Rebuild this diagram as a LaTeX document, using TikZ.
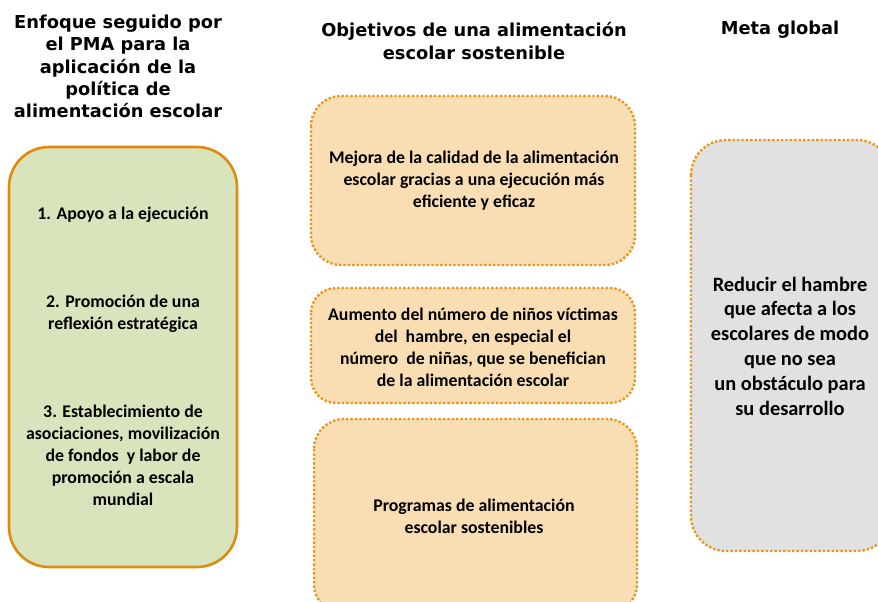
\documentclass[tikz,border=0pt]{standalone}
\usepackage{fontspec}
\setmainfont{Carlito}
\newfontfamily\headfont{DejaVu Sans}
\definecolor{edgeor}{HTML}{E08A0E}
\definecolor{dotor}{HTML}{E8961E}
\definecolor{greenfill}{HTML}{D8E4BC}
\definecolor{orfill}{HTML}{F9DEB4}
\definecolor{grayfill}{HTML}{E1E1E1}
\begin{document}
\begin{tikzpicture}[x=1pt,y=-1pt,
  heading/.style={font=\headfont\bfseries\fontsize{17.8}{22.2}\selectfont, align=center, inner sep=0pt},
  bodytext/.style={font=\bfseries\fontsize{17.8}{22}\selectfont, align=center, inner sep=0pt},
  greenbox/.style={draw=edgeor, line width=2.6pt, fill=greenfill, rounded corners=40pt},
  objbox/.style={draw=dotor, line width=2.4pt, dash pattern=on 2.4pt off 2pt, fill=orfill, rounded corners=#1},
  goalbox/.style={draw=dotor, line width=2.4pt, dash pattern=on 2.4pt off 2pt, fill=grayfill, rounded corners=35pt}
]
\useasboundingbox (0,0) rectangle (878,602);
\clip (0,0) rectangle (878,602);
% headings
\node[heading] (h1) at (118,66.5) {Enfoque seguido por\\el PMA para la\\aplicación de la\\política de\\alimentación escolar};
\node[heading] (h2) at (474,41) {Objetivos de una alimentación\\escolar sostenible};
\node[heading] (h3) at (780,30) {Meta global};
% left box
\draw[greenbox] (9,147) rectangle (237,567);
\node[bodytext] (a1) at (123,215) {1. Apoyo a la ejecución};
\node[bodytext] (a2) at (123,314) {2. Promoción de una\\reflexión estratégica};
\node[bodytext] (a3) at (123,455) {3. Establecimiento de\\asociaciones, movilización\\de fondos~ y labor de\\promoción a escala\\mundial};
% middle boxes
\draw[objbox=30pt] (311,96) rectangle (635,265);
\node[bodytext] (b1) at (474,181) {Mejora de la calidad de la alimentación\\escolar gracias a una ejecución más\\eficiente y eficaz};
\draw[objbox=25pt] (311,288) rectangle (635,403);
\node[bodytext] (b2) at (473,347) {Aumento del número de niños víctimas\\del~ hambre, en especial el\\número~ de niñas, que se benefician\\de la alimentación escolar};
\draw[objbox=30pt] (314,419) rectangle (637,614);
\node[bodytext] (b3) at (474,516) {Programas de alimentación\\escolar sostenibles};
% right box
\draw[goalbox] (691,140) rectangle (892,551);
\node[bodytext, font=\bfseries\fontsize{20.4}{24.8}\selectfont] (c1) at (790,346) {Reducir el hambre\\que afecta a los\\escolares de modo\\que no sea\\un obstáculo para\\su desarrollo};
\end{tikzpicture}
\end{document}
